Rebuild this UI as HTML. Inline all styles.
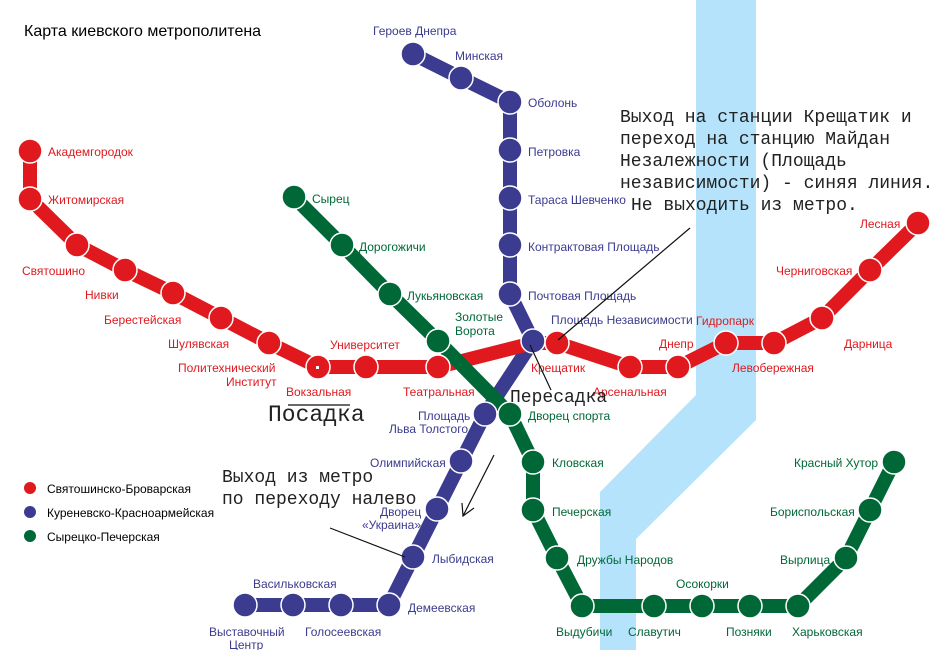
<!DOCTYPE html>
<html><head><meta charset="utf-8"><style>
body{margin:0;background:#fff}
svg{display:block}
text{font-family:"Liberation Sans","DejaVu Sans",sans-serif;font-size:12px}
.r{fill:#e0191f}.b{fill:#3b3b8f}.g{fill:#006837}
text.m{font-family:"Liberation Mono","DejaVu Sans Mono",monospace;fill:#222;font-size:18px}
text.p{font-size:23px}
</style></head><body>
<svg width="940" height="650" viewBox="0 0 940 650" xmlns="http://www.w3.org/2000/svg">
<polygon points="696,0 756,0 756,420 636,539 636,650 600,650 600,492 696,395" fill="#b5e3fb"/>
<text x="24" y="36" style="font-size:16px" fill="#000">Карта киевского метрополитена</text>
<g fill="none" stroke-width="14" stroke-linejoin="round">
<polyline stroke="#3b3b8f" points="413,54 461,78 510,102 510,294 533,341 485,414 389,605 245,605"/>
<polyline stroke="#e0191f" points="30,151 30,199 77,245 125,270 173,293 221,318 269,343 318,367 438,367 533,343 557,343 630,367 678,367 726,343 774,343 822,318 870,270 918,223"/>
<polyline stroke="#006837" points="294,197 342,245 390,294 438,341 510,414 533,462 533,510 557,558 582,606 798,606 846,558 870,510 894,462"/>
</g>
<g stroke="#fff" stroke-width="1.5">
<g fill="#e0191f">
<circle cx="30" cy="151" r="12"/><circle cx="30" cy="199" r="12"/><circle cx="77" cy="245" r="12"/><circle cx="125" cy="270" r="12"/><circle cx="173" cy="293" r="12"/><circle cx="221" cy="318" r="12"/><circle cx="269" cy="343" r="12"/><circle cx="318" cy="367" r="12"/><circle cx="366" cy="367" r="12"/><circle cx="438" cy="367" r="12"/><circle cx="557" cy="343" r="12"/><circle cx="630" cy="367" r="12"/><circle cx="678" cy="367" r="12"/><circle cx="726" cy="343" r="12"/><circle cx="774" cy="343" r="12"/><circle cx="822" cy="318" r="12"/><circle cx="870" cy="270" r="12"/><circle cx="918" cy="223" r="12"/>
</g>
<g fill="#3b3b8f">
<circle cx="413" cy="54" r="12"/><circle cx="461" cy="78" r="12"/><circle cx="510" cy="102" r="12"/><circle cx="510" cy="150" r="12"/><circle cx="510" cy="198" r="12"/><circle cx="510" cy="245" r="12"/><circle cx="510" cy="294" r="12"/><circle cx="533" cy="341" r="12"/><circle cx="485" cy="414" r="12"/><circle cx="461" cy="461" r="12"/><circle cx="437" cy="509" r="12"/><circle cx="413" cy="557" r="12"/><circle cx="389" cy="605" r="12"/><circle cx="341" cy="605" r="12"/><circle cx="293" cy="605" r="12"/><circle cx="245" cy="605" r="12"/>
</g>
<g fill="#006837">
<circle cx="294" cy="197" r="12"/><circle cx="342" cy="245" r="12"/><circle cx="390" cy="294" r="12"/><circle cx="438" cy="341" r="12"/><circle cx="510" cy="414" r="12"/><circle cx="533" cy="462" r="12"/><circle cx="533" cy="510" r="12"/><circle cx="557" cy="558" r="12"/><circle cx="582" cy="606" r="12"/><circle cx="654" cy="606" r="12"/><circle cx="702" cy="606" r="12"/><circle cx="750" cy="606" r="12"/><circle cx="798" cy="606" r="12"/><circle cx="846" cy="558" r="12"/><circle cx="870" cy="510" r="12"/><circle cx="894" cy="462" r="12"/>
</g>
</g>
<rect x="316" y="366" width="3" height="3" fill="#fff"/>
<g class="r">
<text x="48" y="156">Академгородок</text><text x="48" y="204">Житомирская</text><text x="22" y="275">Святошино</text><text x="85" y="299">Нивки</text><text x="104" y="324">Берестейская</text><text x="168" y="348">Шулявская</text>
<text x="178" y="372">Политехнический</text><text x="226" y="386">Институт</text><text x="286" y="396">Вокзальная</text><text x="330" y="349">Университет</text><text x="403" y="396">Театральная</text>
<text x="531" y="372">Крещатик</text><text x="593" y="396">Арсенальная</text><text x="659" y="348">Днепр</text><text x="696" y="325">Гидропарк</text><text x="732" y="372">Левобережная</text><text x="844" y="348">Дарница</text><text x="776" y="275">Черниговская</text><text x="860" y="228">Лесная</text>
</g>
<g class="b">
<text x="373" y="35">Героев Днепра</text><text x="455" y="60">Минская</text><text x="528" y="107">Оболонь</text><text x="528" y="156">Петровка</text><text x="528" y="204">Тараса Шевченко</text><text x="528" y="251">Контрактовая Площадь</text><text x="528" y="300">Почтовая Площадь</text><text x="551" y="324">Площадь Независимости</text>
<text x="418" y="420">Площадь</text><text x="389" y="433">Льва Толстого</text><text x="370" y="467">Олимпийская</text><text x="380" y="516">Дворец</text><text x="362" y="529">«Украина»</text><text x="432" y="563">Лыбидская</text><text x="408" y="612">Демеевская</text><text x="253" y="588">Васильковская</text><text x="305" y="636">Голосеевская</text><text x="209" y="636">Выставочный</text><text x="229" y="649">Центр</text>
</g>
<g class="g">
<text x="312" y="203">Сырец</text><text x="359" y="251">Дорогожичи</text><text x="407" y="300">Лукьяновская</text><text x="455" y="321">Золотые</text><text x="455" y="335">Ворота</text><text x="528" y="420">Дворец спорта</text><text x="552" y="467">Кловская</text><text x="552" y="516">Печерская</text><text x="577" y="564">Дружбы Народов</text>
<text x="556" y="636">Выдубичи</text><text x="628" y="636">Славутич</text><text x="676" y="588">Осокорки</text><text x="726" y="636">Позняки</text><text x="792" y="636">Харьковская</text><text x="780" y="564">Вырлица</text><text x="770" y="516">Бориспольская</text><text x="794" y="467">Красный Хутор</text>
</g>
<circle cx="30" cy="488" r="6" fill="#e0191f"/><circle cx="30" cy="512" r="6" fill="#3b3b8f"/><circle cx="30" cy="536" r="6" fill="#006837"/>
<text x="47" y="493">Святошинско-Броварская</text><text x="47" y="517">Куреневско-Красноармейская</text><text x="47" y="541">Сырецко-Печерская</text>
<text class="m" x="620" y="122">Выход на станции Крещатик и</text>
<text class="m" x="620" y="144">переход на станцию Майдан</text>
<text class="m" x="620" y="166">Незалежности (Площадь</text>
<text class="m" x="620" y="188">независимости) - синяя линия.</text>
<text class="m" x="631" y="210">Не выходить из метро.</text>
<text class="m" x="222" y="482">Выход из метро</text>
<text class="m" x="222" y="504">по переходу налево</text>
<text class="m" x="510" y="402">Пересадка</text>
<text class="m p" x="268" y="421">Посадка</text>
<g stroke="#111" stroke-width="1.2" fill="none">
<line x1="690" y1="228" x2="558" y2="340"/>
<line x1="530" y1="345" x2="551" y2="390"/>
<line x1="288" y1="405" x2="350" y2="405"/>
<line x1="330" y1="528" x2="405" y2="557"/>
<line x1="494" y1="455" x2="463" y2="516"/>
<polyline points="462,503 463,516 474,508"/>
</g>
</svg>
</body></html>
